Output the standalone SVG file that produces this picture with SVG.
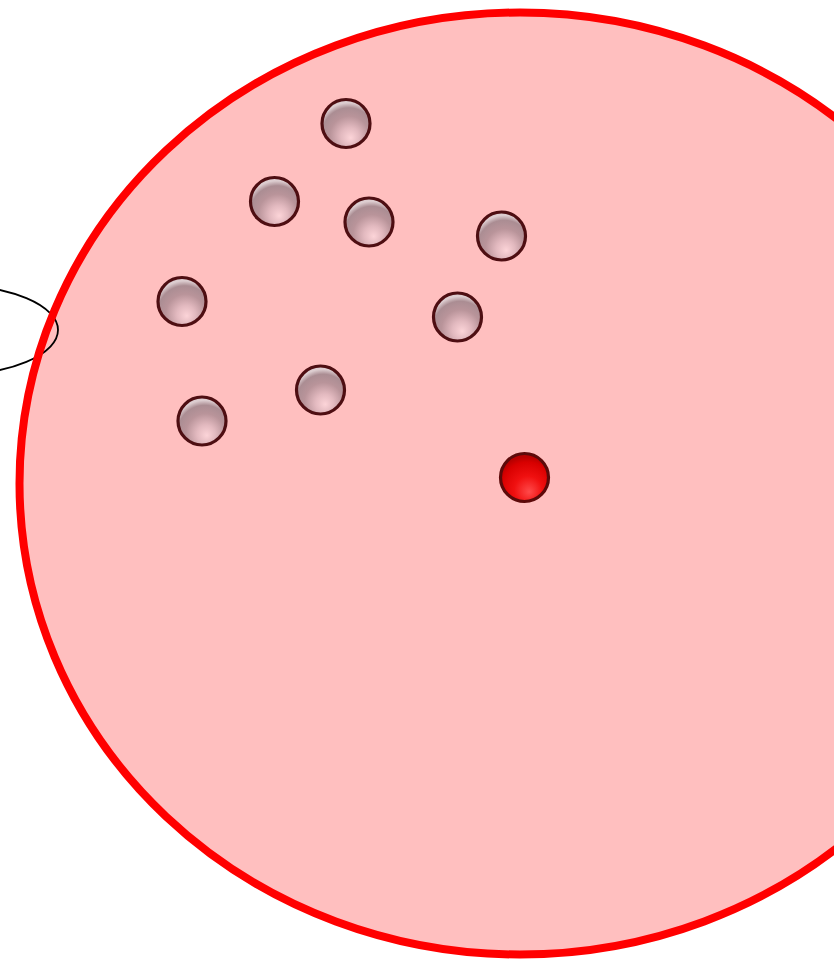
<svg xmlns="http://www.w3.org/2000/svg" width="834" height="960" viewBox="0 0 834 960">
<defs>
<radialGradient id="gBall" cx="0.55" cy="0.72" r="0.65" fx="0.6" fy="0.8">
<stop offset="0" stop-color="#fcd4d8"/>
<stop offset="0.3" stop-color="#e2b9bf"/>
<stop offset="0.62" stop-color="#b9949a"/>
<stop offset="0.86" stop-color="#ab8d93"/>
<stop offset="1" stop-color="#ddcdd0"/>
</radialGradient>
<radialGradient id="gRed" cx="0.55" cy="0.72" r="0.65" fx="0.6" fy="0.8">
<stop offset="0" stop-color="#ff4a4a"/>
<stop offset="0.45" stop-color="#f01010"/>
<stop offset="0.85" stop-color="#d80000"/>
<stop offset="1" stop-color="#b80000"/>
</radialGradient>
</defs>
<style>
.ball{fill:url(#gBall);stroke:#4e0e12;stroke-width:3.2}
.red{fill:url(#gRed);stroke:#5c0a0a;stroke-width:3.2}
</style>
<g id="region">
<ellipse cx="520" cy="483.5" rx="500.5" ry="471" fill="#ffbfbf"/>
</g>
<g id="small-ellipse">
<ellipse cx="-50" cy="330" rx="108" ry="45" fill="none" stroke="#000" stroke-width="1.8"/>
</g>
<g id="region-border">
<ellipse cx="520" cy="483.5" rx="500.5" ry="471" fill="none" stroke="#ff0000" stroke-width="8"/>
</g>
<g id="b1"><circle class="ball" cx="346" cy="123.5" r="24"/></g>
<g id="b2"><circle class="ball" cx="274.5" cy="201.5" r="24"/></g>
<g id="b3"><circle class="ball" cx="369" cy="222" r="24"/></g>
<g id="b4"><circle class="ball" cx="501.5" cy="236" r="24"/></g>
<g id="b5"><circle class="ball" cx="182" cy="301.5" r="24"/></g>
<g id="b6"><circle class="ball" cx="457.5" cy="317" r="24"/></g>
<g id="b7"><circle class="ball" cx="320.5" cy="390" r="24"/></g>
<g id="b8"><circle class="ball" cx="202" cy="421" r="24"/></g>
<g id="red"><circle class="red" cx="524.5" cy="477.5" r="24"/></g>
</svg>
